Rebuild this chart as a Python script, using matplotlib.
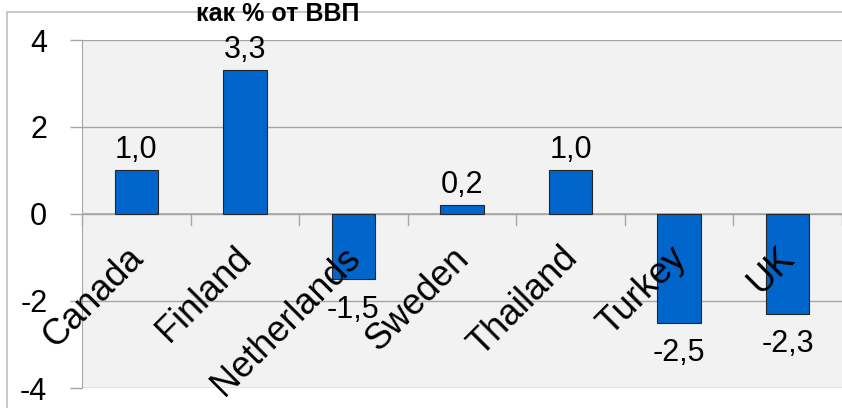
import matplotlib
matplotlib.use("Agg")
import matplotlib.pyplot as plt
from matplotlib.patches import Rectangle
import numpy as np

# values (% of GDP)
countries = ["Canada", "Finland", "Netherlands", "Sweden", "Thailand", "Turkey", "UK"]
values = [1.0, 3.3, -1.5, 0.2, 1.0, -2.5, -2.3]
title = "как % от ВВП"
yticks = [-4, -2, 0, 2, 4]

plt.rcParams["font.family"] = ["Liberation Sans Narrow", "Liberation Sans", "DejaVu Sans"]

bar_color = "#0066CC"
grid_color = "#A6A6A6"

fig = plt.figure(figsize=(8.42, 4.08), dpi=100)
ax = fig.add_axes([82 / 842, 1 - 388 / 408, 1 - 82 / 842, (388 - 40) / 408])
ax.set_facecolor("#F2F2F2")

x = np.arange(len(countries))
ax.bar(x, values, width=0.4, color=bar_color, edgecolor="#262626", linewidth=0.8, zorder=3)

ax.set_xlim(-0.5, len(countries) - 0.5)
ax.set_ylim(-4, 4)
ax.set_yticks(yticks)
ax.set_yticklabels([str(t) for t in yticks], fontsize=22)
ax.yaxis.grid(True, color=grid_color, linewidth=1.0, zorder=0)
ax.tick_params(axis="y", length=9, width=1, color=grid_color, pad=16)

# category axis sits at zero, tick marks between categories
ax.set_xticks([])
for xt in np.arange(-0.5, len(countries), 1.0):
    ax.plot([xt, xt], [0, -0.25], color=grid_color, linewidth=1, zorder=2, clip_on=False)
ax.axhline(0, color=grid_color, linewidth=1.2, zorder=2)

for side in ["top", "right", "bottom"]:
    ax.spines[side].set_visible(False)
ax.spines["left"].set_color(grid_color)

# category labels, rotated, ending just under the axis
for i, name in enumerate(countries):
    ax.annotate(name, xy=(i, 0), xytext=(1, -28), textcoords="offset points",
                rotation=45, rotation_mode="anchor", ha="right", va="center",
                fontsize=26, zorder=5)

# value labels
for i, v in enumerate(values):
    lab = f"{v:.1f}".replace(".", ",")
    if v >= 0:
        ax.annotate(lab, xy=(i, v), xytext=(0, 4), textcoords="offset points",
                    ha="center", va="bottom", fontsize=22, zorder=5)
    else:
        ax.annotate(lab, xy=(i, v), xytext=(0, -11), textcoords="offset points",
                    ha="center", va="top", fontsize=22, zorder=5)

# outer chart frame
fig.patches.append(Rectangle((7 / 842, -0.05), 1.1, 1 - 12 / 408 + 0.05,
                             transform=fig.transFigure, fill=False,
                             edgecolor="#BFBFBF", linewidth=1.2, zorder=0))
fig.text(278 / 842, 1 - 14 / 408, title, ha="center", va="center",
         fontsize=18, fontweight="bold")

fig.savefig("out.png", dpi=100)
